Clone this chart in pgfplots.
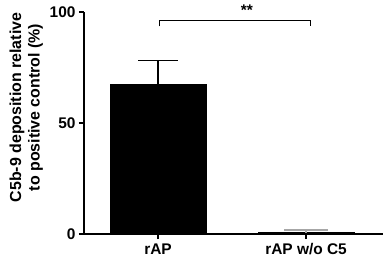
\documentclass[border=0pt]{standalone}
\usepackage{pgfplots}
\pgfplotsset{compat=1.18}
\usepackage{fontspec}
\setmainfont{Liberation Sans}
\begin{document}
\begin{tikzpicture}
\useasboundingbox (-84bp,-26bp) rectangle (299bp,234bp);
\begin{axis}[
  at={(0,0)}, anchor=south west,
  scale only axis,
  width=299bp, height=222bp,
  xmin=-0.5, xmax=1.52, ymin=0, ymax=100,
  axis x line*=bottom, axis y line*=left,
  axis line style={line width=1.1pt},
  ytick={0,50,100},
  xtick={0,1}, xticklabels={rAP, rAP w/o C5},
  tick style={line width=1.1pt, black},
  tick align=outside,
  major tick length=5bp,
  /pgf/number format/assume math mode=true,
  ticklabel style={font=\fontsize{15.5}{17}\selectfont\bfseries},
  xticklabel style={yshift=-1bp},
  ylabel style={font=\fontsize{16}{18.5}\selectfont\bfseries, align=center, at={(ticklabel cs:0.57)}},
  ylabel={C5b-9 deposition relative\\to positive control (\%)},
  ylabel shift=0bp,
  clip=false,
]
\addplot[ybar, bar width=0.65, fill=black, draw=black,
  error bars/.cd, y dir=plus, y explicit,
  error bar style={line width=1.1pt, black},
  error mark options={rotate=90, mark size=20bp, line width=1.1pt, black}]
  coordinates {(0,67.6) +- (0,10.4)};
\addplot[ybar, bar width=0.65, fill=black, draw=black,
  error bars/.cd, y dir=plus, y explicit,
  error bar style={line width=1.1pt, gray!70},
  error mark options={rotate=90, mark size=22bp, line width=1.6pt, gray!70}]
  coordinates {(1,0.6) +- (0,1.2)};
\draw[line width=1.1pt] (axis cs:0.01,93.5) -- (axis cs:0.01,96) -- (axis cs:1.03,96) -- (axis cs:1.03,93.5);
\node[font=\fontsize{15.5}{17}\selectfont\bfseries] at (axis cs:0.6,101) {**};
\end{axis}
\end{tikzpicture}
\end{document}
